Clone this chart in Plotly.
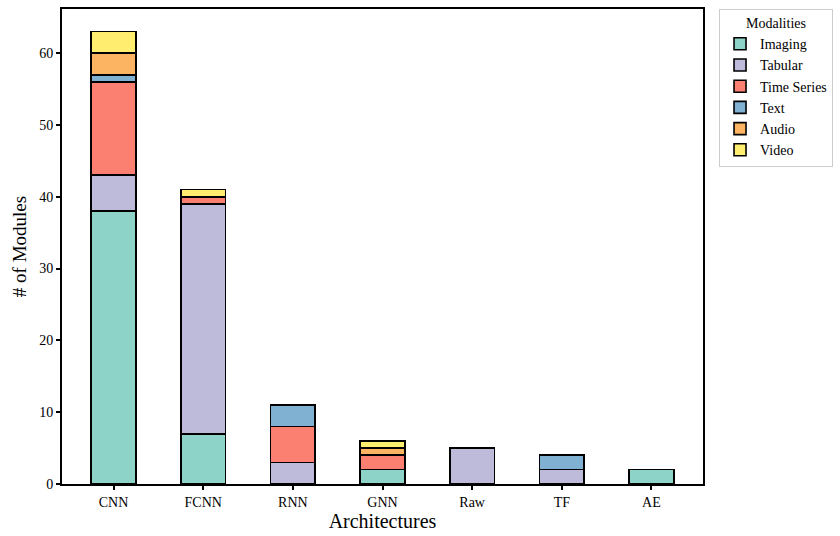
import plotly.graph_objects as go

architectures = ["CNN", "FCNN", "RNN", "GNN", "Raw", "TF", "AE"]

imaging = [38, 7, 0, 2, 0, 0, 2]
tabular = [5, 32, 3, 0, 5, 2, 0]
time_series = [13, 1, 5, 2, 0, 0, 0]
text = [1, 0, 3, 0, 0, 2, 0]
audio = [3, 0, 0, 1, 0, 0, 0]
video = [3, 1, 0, 1, 0, 0, 0]

series = [
    ("Imaging", imaging, "#8dd3c7"),
    ("Tabular", tabular, "#bebada"),
    ("Time Series", time_series, "#fb8072"),
    ("Text", text, "#80b1d3"),
    ("Audio", audio, "#fdb462"),
    ("Video", video, "#ffed6f"),
]

FONT = "Liberation Serif"

fig = go.Figure()
for name, vals, color in series:
    fig.add_trace(go.Bar(
        x=list(range(len(architectures))),
        y=vals,
        name=name,
        width=0.5,
        marker=dict(color=color, line=dict(color="black", width=1.6)),
    ))

fig.update_layout(
    width=840, height=536,
    barmode="stack",
    plot_bgcolor="white",
    paper_bgcolor="white",
    font=dict(family=FONT, color="black", size=14),
    margin=dict(l=62, r=137, t=7, b=48),
    legend=dict(
        title=dict(text="Modalities", side="top center", font=dict(size=14)),
        traceorder="normal",
        x=1.025, xanchor="left", y=1.0, yanchor="top",
        bordercolor="#cccccc", borderwidth=1,
        font=dict(size=14),
        itemwidth=30,
        tracegroupgap=0,
    ),
)

fig.update_xaxes(
    tickmode="array",
    tickvals=list(range(len(architectures))),
    ticktext=architectures,
    range=[-0.575, 6.575],
    showline=True, linecolor="black", linewidth=2, mirror=True,
    ticks="outside", ticklen=4, tickwidth=1.5, tickcolor="black",
    showgrid=False,
    title=dict(text="Architectures", font=dict(size=20), standoff=5),
)
fig.update_yaxes(
    range=[0, 66.15],
    tickvals=[0, 10, 20, 30, 40, 50, 60],
    showline=True, linecolor="black", linewidth=2, mirror=True,
    ticks="outside", ticklen=4, tickwidth=1.5, tickcolor="black",
    showgrid=False, zeroline=False,
    title=dict(text="# of Modules", font=dict(size=19), standoff=8),
)

fig.write_html("out.html")
